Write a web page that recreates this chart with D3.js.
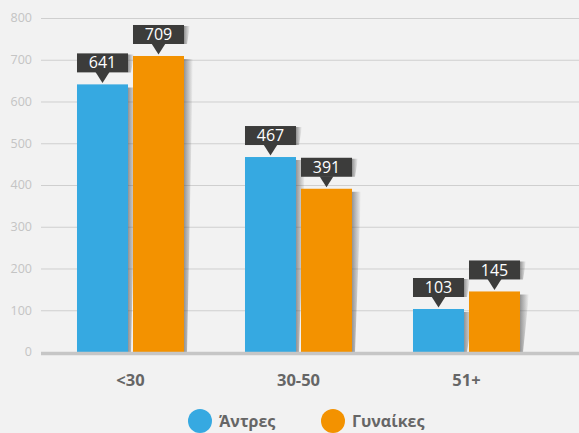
<!DOCTYPE html>
<meta charset="utf-8">
<style>
body { margin: 0; background: #f2f2f2; }
svg { display: block; background: #f2f2f2; }
.grid line { stroke: #cfcfcf; stroke-width: 1px; }
.ytick text { fill: #c4c4c4; font: 12.5px "Open Sans", sans-serif; }
.xlab { fill: #666; font: bold 16.5px "Open Sans", sans-serif; }
.val { fill: #fff; font: 16px "Open Sans", sans-serif; }
.leg text { fill: #666; font: bold 16px "Open Sans", sans-serif; }
</style>
<svg width="579" height="433"></svg>
<script src="https://d3js.org/d3.v7.min.js"></script>
<script>

var categories = ["<30", "30-50", "51+"];
var series = ["Άντρες", "Γυναίκες"];
var men = [641, 467, 103];
var women = [709, 391, 145];
var yTicks = [0, 100, 200, 300, 400, 500, 600, 700, 800];

var colors = ["#36a9e1", "#f39200"];

var svg = d3.select("svg");

var y = d3.scaleLinear().domain([0, 800]).range([352, 18]);

var x0 = d3.scaleBand().domain(categories)
    .range([46.5, 550.5])
    .paddingInner(0.363)
    .paddingOuter(0.1815);

var x1 = d3.scaleBand().domain(series)
    .range([0, x0.bandwidth()])
    .paddingInner(0.089);

var defs = svg.append("defs");
var grad = defs.append("linearGradient").attr("id", "shadow")
    .attr("x1", 0).attr("x2", 1).attr("y1", 0).attr("y2", 0);
grad.append("stop").attr("offset", 0).attr("stop-color", "#555").attr("stop-opacity", 0.6);
grad.append("stop").attr("offset", 1).attr("stop-color", "#555").attr("stop-opacity", 0);

// gridlines
svg.append("g").attr("class", "grid")
  .selectAll("line")
  .data(yTicks.filter(function(d) { return d > 0; }))
  .enter().append("line")
    .attr("x1", 41).attr("x2", 579)
    .attr("y1", function(d) { return y(d) + 0.5; })
    .attr("y2", function(d) { return y(d) + 0.5; });

svg.append("g").attr("class", "ytick")
  .selectAll("text")
  .data(yTicks)
  .enter().append("text")
    .attr("x", 32)
    .attr("y", function(d) { return y(d); })
    .attr("dy", "0.35em")
    .attr("text-anchor", "end")
    .text(function(d) { return d; });

var rows = [];
categories.forEach(function(c, i) {
  rows.push({cat: c, s: series[0], v: men[i], k: 0});
  rows.push({cat: c, s: series[1], v: women[i], k: 1});
});

var bw = x1.bandwidth();
function bx(d) { return x0(d.cat) + x1(d.s); }

// shadows behind bars
svg.append("g").selectAll("path")
  .data(rows)
  .enter().append("path")
    .attr("fill", "url(#shadow)")
    .attr("d", function(d) {
      var r = bx(d) + bw, t = y(d.v) + 3, b = y(0);
      return "M" + r + "," + t + "L" + (r + 9) + "," + t + "L" + (r + 3) + "," + b + "L" + r + "," + b + "Z";
    });

svg.append("g").selectAll("rect")
  .data(rows)
  .enter().append("rect")
    .attr("x", bx)
    .attr("y", function(d) { return y(d.v); })
    .attr("width", bw)
    .attr("height", function(d) { return y(0) - y(d.v); })
    .attr("fill", function(d) { return colors[d.k]; });

// baseline
svg.append("line")
  .attr("x1", 41).attr("x2", 579)
  .attr("y1", y(0) + 1.5).attr("y2", y(0) + 1.5)
  .attr("stroke", "#c6c6c6").attr("stroke-width", 3.5);

// value labels
var lab = svg.append("g").selectAll("g")
  .data(rows)
  .enter().append("g")
    .attr("transform", function(d) { return "translate(" + bx(d) + "," + y(d.v) + ")"; });

lab.append("path")
  .attr("fill", "url(#shadow)")
  .attr("d", "M" + bw + ",-30L" + (bw + 6) + ",-30L" + (bw + 3) + ",-12L" + bw + ",-12Z");

lab.append("rect")
  .attr("x", 0).attr("y", -31)
  .attr("width", bw).attr("height", 19)
  .attr("fill", "#3c3c3b");

lab.append("path")
  .attr("fill", "#3c3c3b")
  .attr("d", "M" + (bw / 2 - 7) + ",-12.5L" + (bw / 2 + 7) + ",-12.5L" + (bw / 2) + ",-1.5Z");

lab.append("text")
  .attr("class", "val")
  .attr("x", bw / 2).attr("y", -21.5)
  .attr("dy", "0.35em")
  .attr("text-anchor", "middle")
  .text(function(d) { return d.v; });

// category labels
svg.append("g").selectAll("text")
  .data(categories)
  .enter().append("text")
    .attr("class", "xlab")
    .attr("x", function(d) { return x0(d) + x0.bandwidth() / 2; })
    .attr("y", 386)
    .attr("text-anchor", "middle")
    .text(function(d) { return d; });

// legend
var legX = [200, 333];
var leg = svg.append("g").attr("class", "leg").selectAll("g")
  .data(series)
  .enter().append("g")
    .attr("transform", function(d, i) { return "translate(" + legX[i] + ",421)"; });

leg.append("circle").attr("r", 12).attr("fill", function(d, i) { return colors[i]; });
leg.append("text").attr("x", 19).attr("dy", "0.35em").text(function(d) { return d; });

</script>
